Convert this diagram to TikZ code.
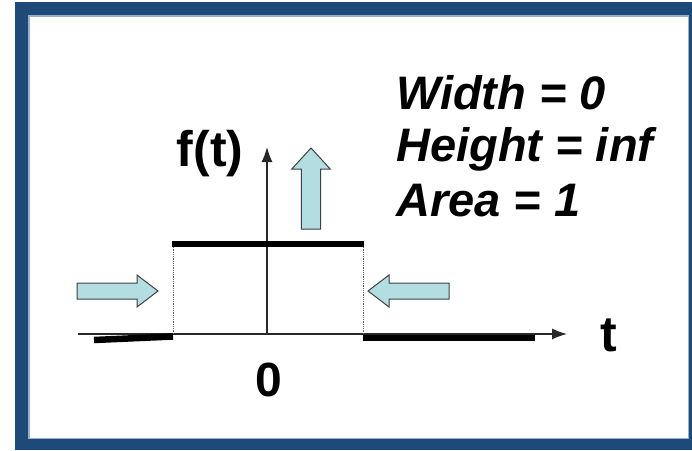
\documentclass[tikz,border=0pt]{standalone}
\usepackage{fontspec}
\setmainfont{Liberation Sans}
\usetikzlibrary{arrows.meta,positioning,calc}
\definecolor{keret}{RGB}{30,74,122}
\definecolor{keretvil}{RGB}{150,175,205}
\definecolor{nyilkek}{RGB}{178,222,226}
\definecolor{tengely}{RGB}{40,40,40}
\tikzset{
  ax/.style={line width=1.3pt,draw=tengely,-{Latex[length=15pt,width=11pt]}},
  vastag/.style={line width=6.5pt},
  pont/.style={densely dotted,line width=0.8pt,draw=black!60},
  blk/.style={fill=nyilkek,draw=black!75,line width=1pt,line join=miter},
  cimke/.style={font=\fontsize{#1}{#1}\selectfont\bfseries,inner sep=0pt},
  cimke/.default=46,
  szoveg/.style={font=\fontsize{47}{52}\selectfont\bfseries\itshape,inner sep=0pt,anchor=base west},
  blkarrow/.pic={\draw[blk] (0,-8) -- (60,-8) -- (60,-16) -- (81,0) -- (60,16) -- (60,8) -- (0,8) -- cycle;},
}
\begin{document}
\begin{tikzpicture}[x=1pt,y=-1pt]
  \useasboundingbox (0,0) rectangle (692,450);
  % keret
  \fill[keret] (15,2) rectangle (692,450);
  \fill[keretvil] (28,15) rectangle (689,439);
  \fill[white] (29.5,16.5) rectangle (687.5,437.5);
  % tengelyek
  \coordinate (o) at (267,334);
  \coordinate (xbal) at (78,334);
  \coordinate (xjobb) at (567,334);
  \coordinate (yfel) at (267,147);
  \draw[ax] (xbal) -- (xjobb);
  \draw[ax] (o) -- (yfel);
  % impulzus
  \coordinate (ba) at (173,334); \coordinate (bf) at (173,244);
  \coordinate (ja) at (363,334); \coordinate (jf) at (363,244);
  \draw[pont] (ba) -- (bf); \draw[pont] (ja) -- (jf);
  \draw[vastag] ($(bf)+(-1,0)$) -- ($(jf)+(1,0)$);
  \draw[vastag] (94,340) -- (173,336.5);
  \draw[vastag] (363,338) -- (535,338);
  % nyilak
  \pic at (77,291) {blkarrow};
  \pic[rotate=180] at (449,291) {blkarrow};
  \pic[rotate=90,yscale=1.2] at (311,229) {blkarrow};
  % feliratok
  \node[cimke=50] (ft) at (210,154) {f(t)};
  \node[cimke=50] (tlab) at (609,335) {t};
  \node[cimke=48] (zero) at (269,380) {0};
  \node[szoveg] (width) at (396,109) {Width = 0};
  \node[szoveg] (height) at (396,161) {Height = inf};
  \node[szoveg] (area) at (396,216) {Area = 1};
\end{tikzpicture}
\end{document}
